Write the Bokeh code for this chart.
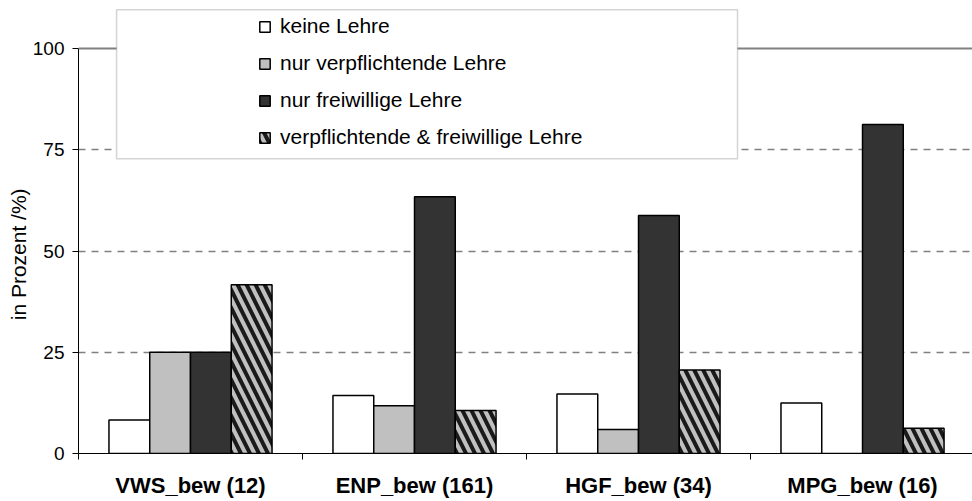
import numpy as np
from bokeh.plotting import figure
from bokeh.models import (ColumnDataSource, Range1d, FixedTicker, Legend, LegendItem,
                          BoxAnnotation, Span)
from bokeh.transform import dodge
from bokeh.embed import file_html
from bokeh.resources import INLINE

# ---- data ----
groups = ["VWS_bew (12)", "ENP_bew (161)", "HGF_bew (34)", "MPG_bew (16)"]
series_names = ["keine Lehre", "nur verpflichtende Lehre", "nur freiwillige Lehre",
                "verpflichtende & freiwillige Lehre"]
keine = [8.3, 14.3, 14.7, 12.5]
nur_verpf = [25.0, 11.8, 5.9, 0.0]
nur_freiw = [25.0, 63.4, 58.8, 81.25]
beide = [41.7, 10.6, 20.6, 6.25]
y_ticks = [0, 25, 50, 75, 100]
y_title = "in Prozent /%)"

FONT = "Liberation Sans"

x_centers = list(np.arange(len(groups)) + 0.5)
src = ColumnDataSource(dict(x=x_centers, keine=keine, verpf=nur_verpf,
                            freiw=nur_freiw, beide=beide))

p = figure(width=972, height=501, output_backend="svg", toolbar_location=None,
           x_range=Range1d(0, 3.991), y_range=Range1d(0, 109.9),
           min_border_left=78, min_border_right=0, min_border_top=8,
           min_border_bottom=48)
p.outline_line_color = None
p.background_fill_color = "white"

bw = 0.182
offs = [-1.5 * bw, -0.5 * bw, 0.5 * bw, 1.5 * bw]
common = dict(source=src, width=bw, line_color="black", line_width=1.5)
r1 = p.vbar(x=dodge("x", offs[0]), top="keine", fill_color="white", **common)
r2 = p.vbar(x=dodge("x", offs[1]), top="verpf", fill_color="#c0c0c0", **common)
r3 = p.vbar(x=dodge("x", offs[2]), top="freiw", fill_color="#333333", **common)
r4 = p.vbar(x=dodge("x", offs[3]), top="beide", fill_color="#c0c0c0",
            hatch_pattern="left_diagonal_line", hatch_color="#1a1a1a",
            hatch_scale=18, hatch_weight=4, **common)

# grid
p.xgrid.visible = False
p.ygrid.ticker = FixedTicker(ticks=[25, 50, 75])
p.ygrid.grid_line_color = "#808080"
p.ygrid.grid_line_dash = "7 6"
p.ygrid.grid_line_width = 1.5

# y axis
ya = p.yaxis[0]
ya.ticker = FixedTicker(ticks=y_ticks)
ya.bounds = (0, 100)
ya.axis_line_color = "black"
ya.major_tick_line_color = "black"
ya.major_tick_out = 6
ya.major_tick_in = 0
ya.minor_tick_line_color = None
ya.major_label_text_font = FONT
ya.major_label_text_font_size = "19px"
ya.major_label_text_color = "black"
ya.major_label_standoff = 8
# trailing no-break spaces centre the title on the 0..100 part of the axis
ya.axis_label = y_title + "\u00a0" * 8
ya.axis_label_text_font = FONT
ya.axis_label_text_font_size = "21px"
ya.axis_label_text_font_style = "normal"
ya.axis_label_text_color = "black"
ya.axis_label_standoff = 0

# x axis
xa = p.xaxis[0]
xa.ticker = FixedTicker(ticks=x_centers, minor_ticks=list(range(len(groups) + 1)))
xa.major_label_overrides = {float(c): g for c, g in zip(x_centers, groups)}
xa.axis_line_color = "black"
xa.major_tick_line_color = None
xa.major_tick_out = 0
xa.major_tick_in = 0
xa.minor_tick_line_color = "black"
xa.minor_tick_out = 6
xa.minor_tick_in = 0
xa.major_label_text_font = FONT
xa.major_label_text_font_size = "22px"
xa.major_label_text_font_style = "bold"
xa.major_label_text_color = "black"
xa.major_label_standoff = 13

# top line at 100
p.add_layout(Span(location=100, dimension="width", line_color="#808080", line_width=2))

# legend box
p.add_layout(BoxAnnotation(left=0.17, right=2.942, bottom=72.8, top=109.6,
                           fill_color="white", fill_alpha=1.0,
                           line_color="#707070", line_width=1.5))

legend = Legend(items=[LegendItem(label=n, renderers=[r]) for n, r in
                       zip(series_names, [r1, r2, r3, r4])],
                location=(180, 304), orientation="vertical",
                glyph_width=13, glyph_height=13, label_height=20, spacing=13,
                label_standoff=9, padding=0, margin=0,
                border_line_color=None, background_fill_alpha=0,
                label_text_font=FONT, label_text_font_size="21px",
                label_text_color="black")
p.add_layout(legend, "center")

open("out.html", "w").write(file_html(p, INLINE))
